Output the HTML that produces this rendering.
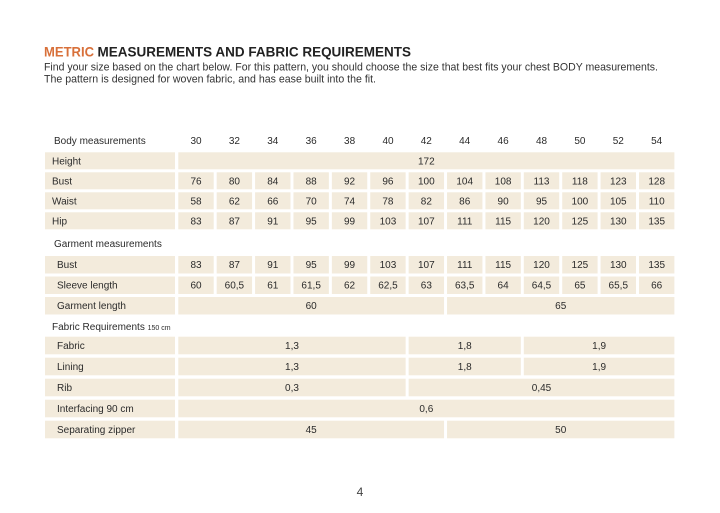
<!DOCTYPE html>
<html><head><meta charset="utf-8"><style>
html,body{margin:0;padding:0;background:#fff;}
svg{display:block;}
text{font-family:"Liberation Sans",sans-serif;fill:#2b2b2b;}
</style></head><body>
<svg width="720" height="513" viewBox="0 0 720 513" xmlns="http://www.w3.org/2000/svg">
<rect width="720" height="513" fill="#fff"/>
<!-- title -->
<text x="44" y="56.7" font-size="14" font-weight="bold" style="fill:#d8703a" textLength="50" lengthAdjust="spacingAndGlyphs">METRIC</text>
<text x="97.5" y="56.7" font-size="14" font-weight="bold" style="fill:#222" textLength="313.5" lengthAdjust="spacingAndGlyphs">MEASUREMENTS AND FABRIC REQUIREMENTS</text>
<text x="44" y="70.7" font-size="11" style="fill:#333" textLength="614" lengthAdjust="spacingAndGlyphs">Find your size based on the chart below. For this pattern, you should choose the size that best fits your chest BODY measurements.</text>
<text x="44" y="82.7" font-size="11" style="fill:#333" textLength="332" lengthAdjust="spacingAndGlyphs">The pattern is designed for woven fabric, and has ease built into the fit.</text>

<g fill="#f3ebdc">
<!-- body rows label cells -->
<rect x="45" y="152.3" width="130" height="17"/>
<rect x="45" y="172.3" width="130" height="17"/>
<rect x="45" y="192.3" width="130" height="17"/>
<rect x="45" y="212.3" width="130" height="17"/>
<rect x="178.3" y="152.3" width="496.1" height="17"/>
</g>
<g fill="#f3ebdc" id="cells">
</g>

<g font-size="10" text-anchor="middle" id="hdr">
<text x="196" y="144">30</text><text x="234.4" y="144">32</text><text x="272.8" y="144">34</text><text x="311.2" y="144">36</text><text x="349.6" y="144">38</text><text x="388" y="144">40</text><text x="426.3" y="144">42</text><text x="464.7" y="144">44</text><text x="503.1" y="144">46</text><text x="541.5" y="144">48</text><text x="579.9" y="144">50</text><text x="618.3" y="144">52</text><text x="656.7" y="144">54</text>
</g>
<text x="54" y="144" font-size="10">Body measurements</text>
<text x="52" y="164.3" font-size="10">Height</text>
<text x="52" y="184.3" font-size="10">Bust</text>
<text x="52" y="204.3" font-size="10">Waist</text>
<text x="52" y="224.3" font-size="10">Hip</text>
<text x="426.3" y="164.3" font-size="10" text-anchor="middle">172</text>

<text x="54" y="246.8" font-size="10">Garment measurements</text>
<text x="57" y="268.2" font-size="10">Bust</text>
<text x="57" y="288.7" font-size="10">Sleeve length</text>
<text x="57" y="309.2" font-size="10">Garment length</text>

<text x="52" y="330.2" font-size="10">Fabric Requirements <tspan font-size="7">150 cm</tspan></text>
<text x="57" y="349" font-size="10">Fabric</text>
<text x="57" y="370" font-size="10">Lining</text>
<text x="57" y="391" font-size="10">Rib</text>
<text x="57" y="412" font-size="10">Interfacing 90 cm</text>
<text x="57" y="433" font-size="10">Separating zipper</text>

<g font-size="10" text-anchor="middle" id="vals"></g>

<text x="360" y="496" font-size="12" text-anchor="middle" style="fill:#444">4</text>
</svg>
<script>
(function(){
var NS="http://www.w3.org/2000/svg";
var cells=document.getElementById("cells"), vals=document.getElementById("vals");
function c(i){return 196+38.39*i;}
function rect(x1,x2,y,h){var r=document.createElementNS(NS,"rect");r.setAttribute("x",x1);r.setAttribute("y",y);r.setAttribute("width",x2-x1);r.setAttribute("height",h);cells.appendChild(r);}
function txt(x,y,s){var t=document.createElementNS(NS,"text");t.setAttribute("x",x);t.setAttribute("y",y);t.textContent=s;vals.appendChild(t);}
function fullRow(y,h,data,ty){for(var i=0;i<13;i++){rect(c(i)-17.7,c(i)+17.7,y,h);txt(c(i),ty,data[i]);}}
fullRow(172.3,17,["76","80","84","88","92","96","100","104","108","113","118","123","128"],184.3);
fullRow(192.3,17,["58","62","66","70","74","78","82","86","90","95","100","105","110"],204.3);
fullRow(212.3,17,["83","87","91","95","99","103","107","111","115","120","125","130","135"],224.3);
var grows=[[256,268.2],[276.5,288.7],[297,309.2]];
grows.forEach(function(g){rect(45,175,g[0],17.5);});
fullRow(256,17.5,["83","87","91","95","99","103","107","111","115","120","125","130","135"],268.2);
fullRow(276.5,17.5,["60","60,5","61","61,5","62","62,5","63","63,5","64","64,5","65","65,5","66"],288.7);
function span(a,b,y,h,s,ty){var x1=c(a)-17.7,x2=c(b)+17.7;rect(x1,x2,y,h);txt((x1+x2)/2,ty,s);}
span(0,6,297,17.5,"60",309.2);span(7,12,297,17.5,"65",309.2);
var fr=[336.7,357.7,378.7,399.7,420.7];
fr.forEach(function(y){rect(45,175,y,17.6);});
span(0,5,fr[0],17.6,"1,3",349);span(6,8,fr[0],17.6,"1,8",349);span(9,12,fr[0],17.6,"1,9",349);
span(0,5,fr[1],17.6,"1,3",370);span(6,8,fr[1],17.6,"1,8",370);span(9,12,fr[1],17.6,"1,9",370);
span(0,5,fr[2],17.6,"0,3",391);span(6,12,fr[2],17.6,"0,45",391);
span(0,12,fr[3],17.6,"0,6",412);
span(0,6,fr[4],17.6,"45",433);span(7,12,fr[4],17.6,"50",433);
})();
</script>
</body></html>
